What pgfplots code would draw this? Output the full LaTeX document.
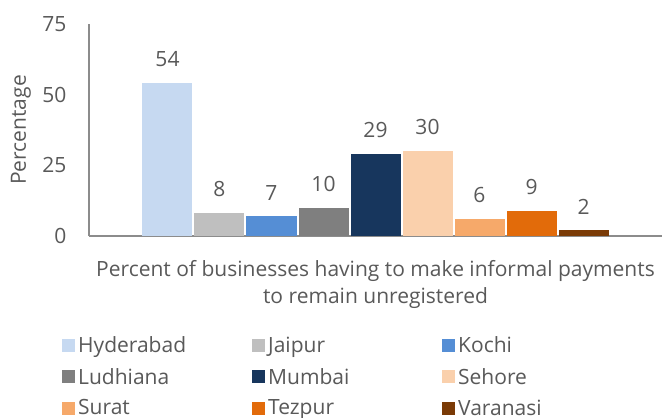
\documentclass[border=0pt]{standalone}
\usepackage{pgfplots}
\pgfplotsset{compat=1.18}
\usepackage{fontspec}
\setmainfont{Open Sans}
\definecolor{txt}{HTML}{595959}
\definecolor{axl}{HTML}{8C8C8C}
\definecolor{cHyd}{HTML}{C6D9F1}
\definecolor{cJai}{HTML}{BFBFBF}
\definecolor{cKoc}{HTML}{558ED5}
\definecolor{cLud}{HTML}{7F7F7F}
\definecolor{cMum}{HTML}{17365D}
\definecolor{cSeh}{HTML}{FAD0AC}
\definecolor{cSur}{HTML}{F6A96A}
\definecolor{cTez}{HTML}{E26B0A}
\definecolor{cVar}{HTML}{7A3A06}
\newcommand{\f}{\fontsize{21bp}{27.5bp}\selectfont}
\begin{document}
\begin{tikzpicture}
\useasboundingbox (-89bp,-182bp) rectangle (575bp,236bp);
\begin{axis}[
  at={(0,0)}, anchor=south west,
  scale only axis, width=573bp, height=212bp,
  xmin=-1, xmax=1, ymin=0, ymax=75,
  ytick={0,25,50,75}, xtick=\empty,
  axis x line*=bottom, axis y line*=left,
  axis line style={axl, line width=1.2bp, -},
  major tick length=0pt,
  ticklabel style={font=\f, text=txt},
  /pgf/number format/assume math mode=true,
  yticklabel style={xshift=-19bp},
  ylabel={Percentage},
  ylabel style={font=\f, text=txt, at={(axis description cs:0,0.5)}, anchor=center, yshift=68bp},
  xlabel={Percent of businesses having to make informal payments\\to remain unregistered},
  xlabel style={font=\f, text=txt, align=center, at={(axis description cs:0.5,0)}, anchor=center, yshift=-48.5bp},
  ybar=2bp, bar width=50bp,
  every axis plot/.append style={draw=none},
  nodes near coords,
  nodes near coords style={font=\f, text=txt, inner sep=0pt, anchor=south, yshift=16bp},
  legend columns=3,
  legend cell align=left,
  legend image code/.code={\fill[#1] (0bp,-6.5bp) rectangle (13bp,6.5bp);},
  legend style={draw=none, font=\f, text=txt, at={(axis description cs:0,0)}, anchor=north west, xshift=-30bp, yshift=-95.5bp,
    row sep=8bp, nodes={text width=171bp, inner sep=3bp}},
]
\addplot[fill=cHyd] coordinates {(0,54)}; \addlegendentry{Hyderabad}
\addplot[fill=cJai] coordinates {(0,8)}; \addlegendentry{Jaipur}
\addplot[fill=cKoc] coordinates {(0,7)}; \addlegendentry{Kochi}
\addplot[fill=cLud] coordinates {(0,10)}; \addlegendentry{Ludhiana}
\addplot[fill=cMum] coordinates {(0,29)}; \addlegendentry{Mumbai}
\addplot[fill=cSeh] coordinates {(0,30)}; \addlegendentry{Sehore}
\addplot[fill=cSur] coordinates {(0,6)}; \addlegendentry{Surat}
\addplot[fill=cTez] coordinates {(0,9)}; \addlegendentry{Tezpur}
\addplot[fill=cVar] coordinates {(0,2)}; \addlegendentry{Varanasi}
\end{axis}
\end{tikzpicture}
\end{document}
